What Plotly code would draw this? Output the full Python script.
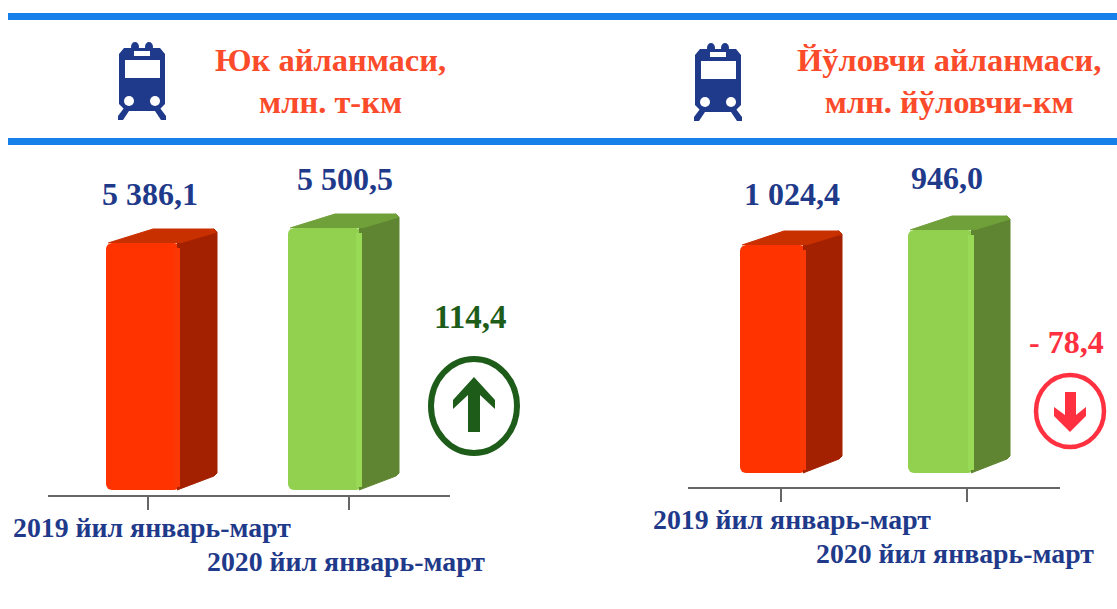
import plotly.graph_objects as go

# ---------- data ----------
categories = ["2019 йил январь-март", "2020 йил январь-март"]
freight_labels = ["5 386,1", "5 500,5"]
passenger_labels = ["1 024,4", "946,0"]
# Drawn bar heights as they appear on the (unlabelled) value axes
freight_bar_heights = [247, 262]
passenger_bar_heights = [228, 243]
freight_change = "114,4"
passenger_change = "- 78,4"
freight_title = "Юк айланмаси,<br>млн. т-км"
passenger_title = "Йўловчи айланмаси,<br>млн. йўловчи-км"

# ---------- layout constants ----------
W, H = 1117, 609
SERIF = "Liberation Serif"
NAVY = "#1f3a8a"
ORANGE = "#fb4b2b"
RULE = "#1580ea"
DKGREEN = "#1e5c1a"
ALERT = "#ff3040"
FACE = [("#ff3300", "#f93806", "#c93000", "#a32000"),
        ("#92d050", "#98d956", "#6fa03a", "#5f8532")]
DEPTH_Y = 14


def px(x):
    return x / W


def py(y):
    return 1 - y / H


fig = go.Figure()


def panel(heights, xa, ya, edges, width, dx, back):
    """Bars with a 3-D look; each face is derived from the bar's height."""
    for h, x0, col in zip(heights, edges, FACE):
        front, light, top, side = col
        x1 = x0 + width
        fig.add_trace(go.Scatter(
            x=[x1 - 3, x1 + dx - 3, x1 + dx, x1 + dx, x1 + dx - 3, x1 - 3],
            y=[0, 14, 17, h + DEPTH_Y - 3, h + DEPTH_Y, h],
            fill="toself", fillcolor=side, mode="lines",
            line=dict(color=side, width=1, shape="linear"),
            xaxis=xa, yaxis=ya, hoverinfo="skip", showlegend=False))
        fig.add_trace(go.Scatter(
            x=[x0 + 2, x0 + back, x1 + dx - 3, x1 + dx, x1],
            y=[h, h + DEPTH_Y, h + DEPTH_Y, h + DEPTH_Y - 3, h],
            fill="toself", fillcolor=top, mode="lines",
            line=dict(color=top, width=1),
            xaxis=xa, yaxis=ya, hoverinfo="skip", showlegend=False))
        fig.add_trace(go.Bar(
            x=[x0 + width / 2], y=[h], base=0, width=[width],
            marker=dict(color=front, line=dict(width=0), cornerradius=6),
            xaxis=xa, yaxis=ya, hoverinfo="skip", showlegend=False))
        fig.add_trace(go.Scatter(
            x=[x1 - 6, x1 - 6, x1, x1],
            y=[3, h - 5, h - 5, 3],
            fill="toself", fillcolor=light, mode="lines",
            line=dict(color=light, width=0),
            xaxis=xa, yaxis=ya, hoverinfo="skip", showlegend=False))


panel(freight_bar_heights, "x", "y", [106, 288], 74, 37, 47)
panel(passenger_bar_heights, "x2", "y2", [740, 908], 66, 36, 44)

axis_common = dict(showgrid=False, zeroline=False, showline=True, linecolor="#666666",
                   linewidth=2, ticks="outside", ticklen=13, tickwidth=2, tickcolor="#666666",
                   showticklabels=False, anchor="free", fixedrange=True)
y_common = dict(visible=False, domain=[0, 1], fixedrange=True)

fig.update_layout(
    width=W, height=H, margin=dict(l=0, r=0, t=0, b=0),
    paper_bgcolor="white", plot_bgcolor="rgba(0,0,0,0)",
    showlegend=False, barmode="overlay",
    xaxis=dict(domain=[px(48), px(450)], range=[48, 450], tickvals=[148, 349],
               position=py(496), **axis_common),
    xaxis2=dict(domain=[px(688), px(1060)], range=[688, 1060], tickvals=[781, 967],
                position=py(488), **axis_common),
    yaxis=dict(range=[490 - H, 490], **y_common),
    yaxis2=dict(range=[473 - H, 473], anchor="x2", **y_common),
)

shapes = []


def rect(x0, y0, x1, y1, color):
    shapes.append(dict(type="rect", xref="paper", yref="paper", x0=px(x0), x1=px(x1),
                       y0=py(y0), y1=py(y1), fillcolor=color, line=dict(width=0)))


def ellipse(x0, y0, x1, y1, fill, line=None, lw=0):
    shapes.append(dict(type="circle", xref="paper", yref="paper", x0=px(x0), x1=px(x1),
                       y0=py(y0), y1=py(y1), fillcolor=fill,
                       line=dict(width=lw, color=line or fill)))


def poly(pts, color):
    d = "M" + " L".join(f"{px(x):.5f},{py(y):.5f}" for x, y in pts) + " Z"
    shapes.append(dict(type="path", xref="paper", yref="paper", path=d,
                       fillcolor=color, line=dict(width=0)))


# blue rules
rect(8, 13, W, 20, RULE)
rect(8, 138, W, 145, RULE)


def train(ox, oy):
    c = NAVY
    ellipse(ox + 13, oy, ox + 21, oy + 10, c)
    ellipse(ox + 27, oy, ox + 35, oy + 10, c)
    poly([(ox + 1, oy + 12), (ox + 6, oy + 6), (ox + 42, oy + 6), (ox + 47, oy + 12),
          (ox + 47, oy + 62), (ox + 40, oy + 69), (ox + 8, oy + 69), (ox + 1, oy + 62)], c)
    rect(ox + 16, oy + 9, ox + 32, oy + 14, "white")
    rect(ox + 7, oy + 18, ox + 42, oy + 36, "white")
    ellipse(ox + 6, oy + 54, ox + 16, oy + 64, "white")
    ellipse(ox + 32, oy + 54, ox + 42, oy + 64, "white")
    poly([(ox + 6, oy + 66), (ox + 13, oy + 66), (ox + 5, oy + 78), (ox, oy + 78), (ox, oy + 74)], c)
    poly([(ox + 35, oy + 66), (ox + 42, oy + 66), (ox + 48, oy + 74), (ox + 48, oy + 78), (ox + 43, oy + 78)], c)


train(118, 42)
train(694, 43)

# change indicators
ellipse(431, 359, 517, 453, "white", DKGREEN, 6)
poly([(474, 377), (495, 400), (495, 409), (480, 395), (480, 432), (468, 432), (468, 395),
      (453, 409), (453, 400)], DKGREEN)
ellipse(1036, 375, 1104, 447, "white", ALERT, 4.5)
poly([(1065, 392), (1076, 392), (1076, 415), (1086, 407), (1086, 416), (1070, 432),
      (1054, 416), (1054, 407), (1065, 415)], ALERT)

fig.update_layout(shapes=shapes)


def label(text, x, y, size, color):
    fig.add_annotation(text=f"<b>{text}</b>", xref="paper", yref="paper", x=px(x), y=py(y),
                       xanchor="center", yanchor="middle", showarrow=False, align="center",
                       font=dict(family=SERIF, size=size, color=color))


label(freight_title, 330, 81, 32.5, ORANGE)
label(passenger_title, 949, 81, 32.5, ORANGE)
for t, x, y in zip(freight_labels, [150, 345], [194, 179]):
    label(t, x, y, 32, NAVY)
for t, x, y in zip(passenger_labels, [792, 947], [194, 178]):
    label(t, x, y, 32, NAVY)
label(freight_change, 470, 317, 33, DKGREEN)
label(passenger_change, 1066, 342, 32, ALERT)
for t, x, y in zip(categories, [152, 346], [527, 561]):
    label(t, x, y, 27.8, NAVY)
for t, x, y in zip(categories, [792, 955], [519, 553]):
    label(t, x, y, 27.8, NAVY)

fig.write_html("out.html", config=dict(displayModeBar=False),
               post_script="document.body.style.margin='0';")
